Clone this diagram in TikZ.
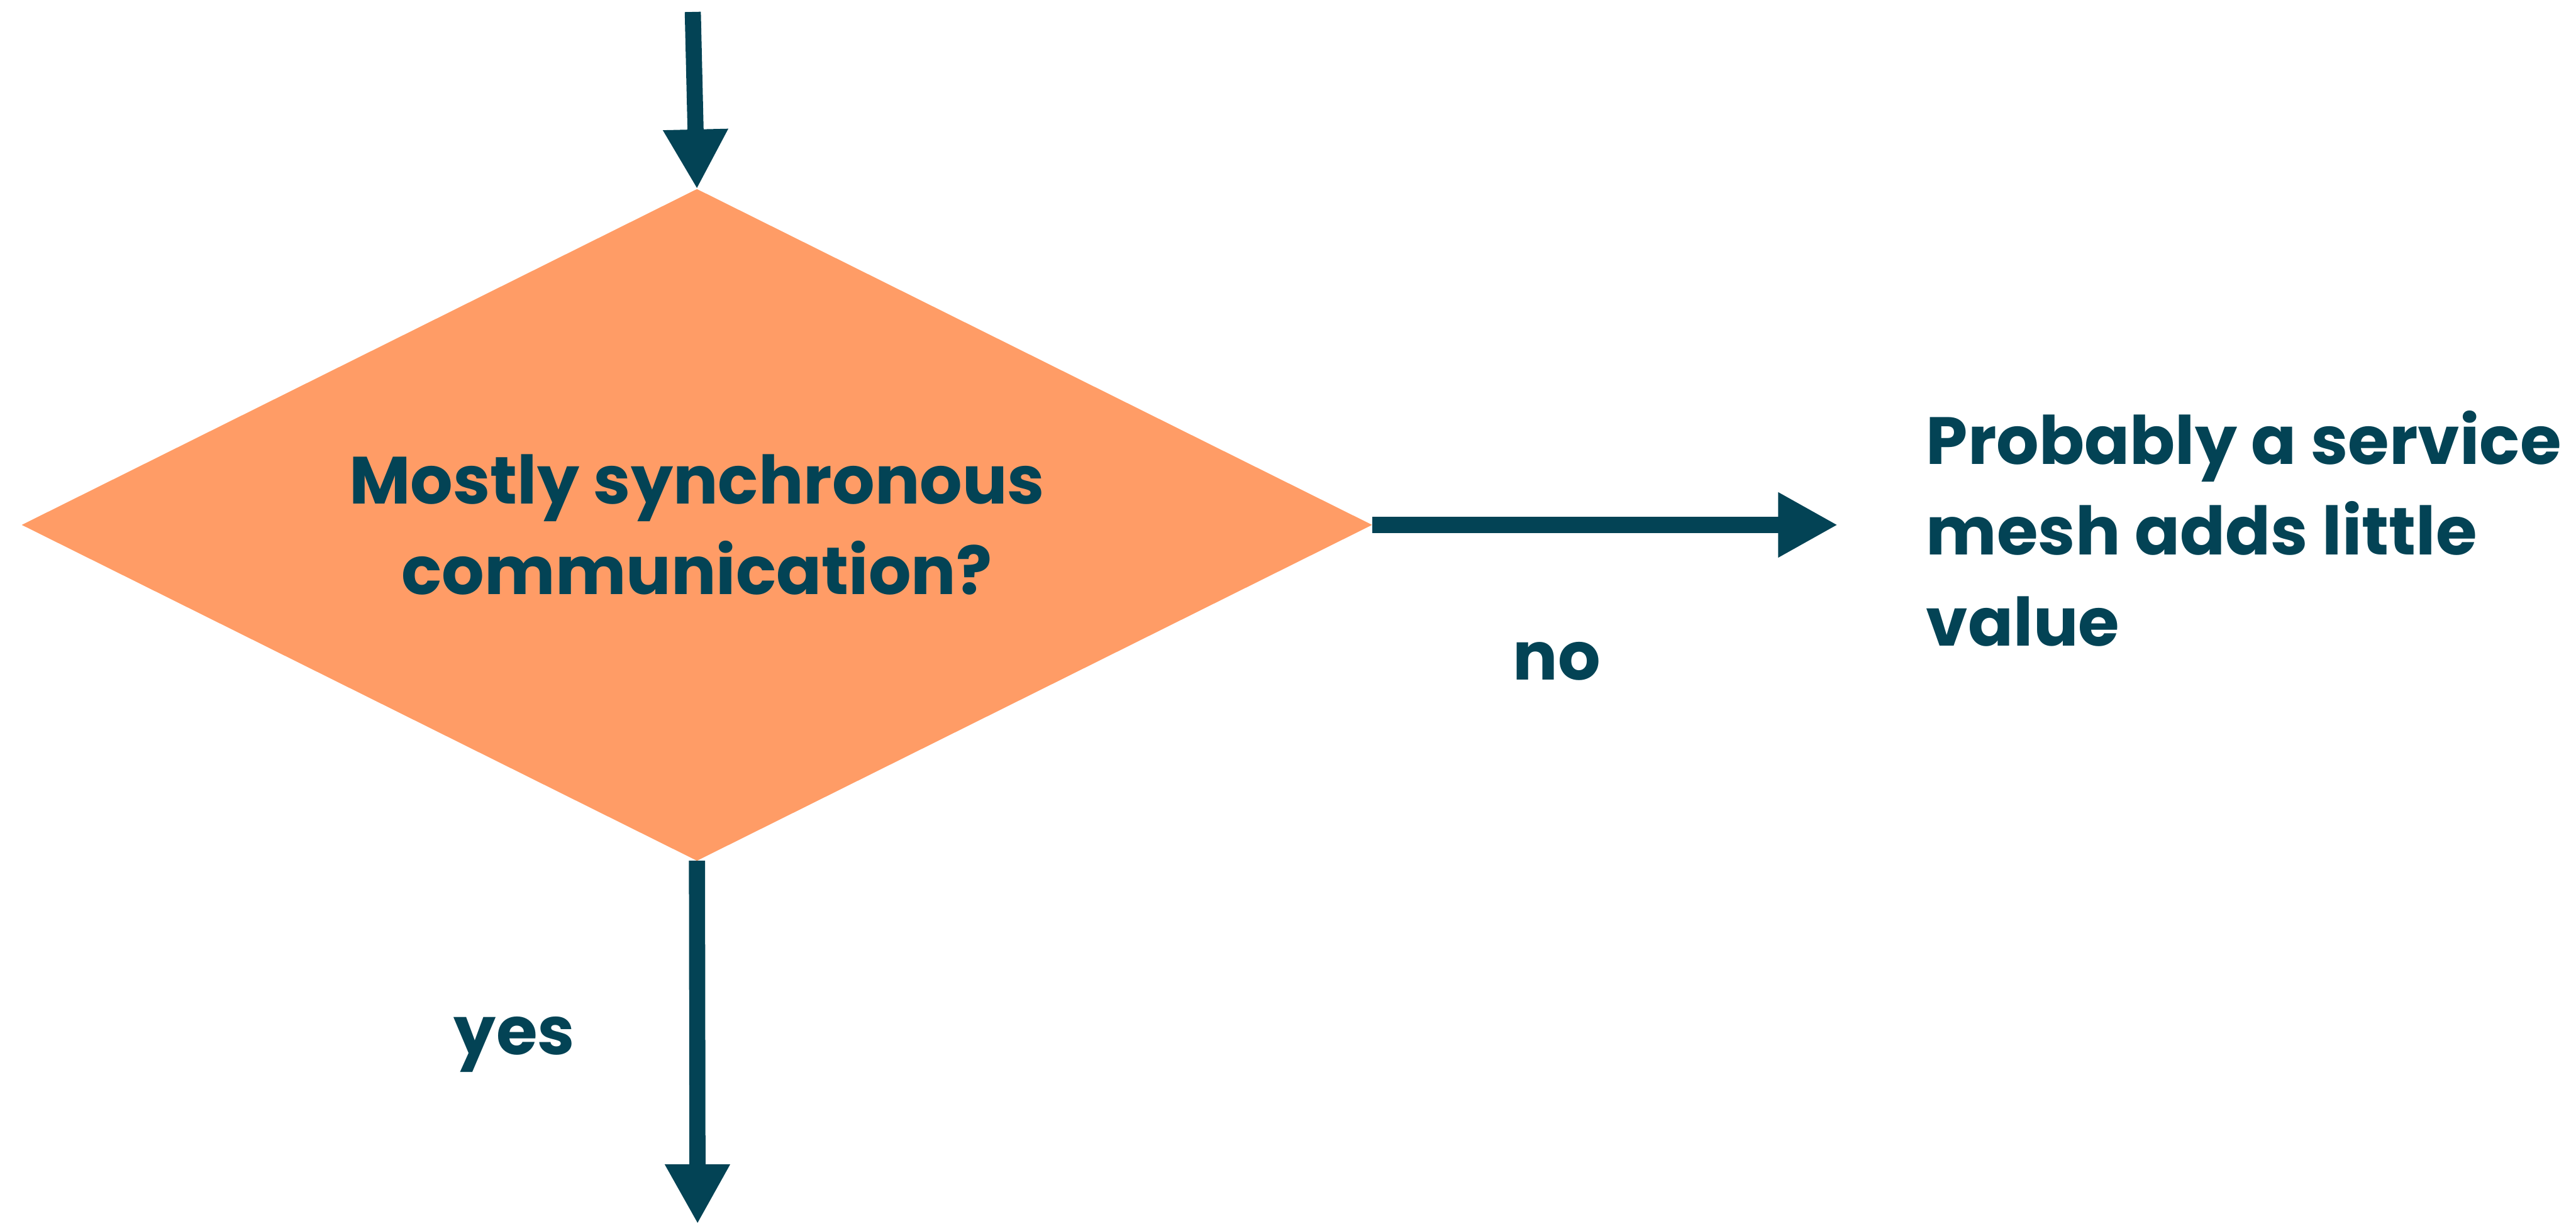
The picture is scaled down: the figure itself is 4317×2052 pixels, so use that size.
\documentclass[tikz,border=0pt]{standalone}
\usepackage{fontspec}
\setmainfont{Poppins}
\usetikzlibrary{shapes.geometric,arrows.meta}
\definecolor{ink}{HTML}{034355}
\definecolor{decision}{HTML}{FF9C66}
\tikzset{
  txt/.style={text=ink, font=\fontsize{112}{152}\selectfont\bfseries, inner sep=0pt},
  decisionbox/.style={shape=diamond, aspect=2, fill=decision, draw=none, inner sep=0pt,
    outer sep=0pt, minimum width=2263pt, minimum height=1126pt, align=center, txt},
  flow/.style={draw=ink, line width=27pt,
    -{Triangle[length=100pt,width=102pt]}},
}
\begin{document}
\begin{tikzpicture}[x=1pt,y=-1pt]
  \useasboundingbox (0,0) rectangle (4317,2052);
  % decision
  \node[decisionbox] (q) at (1168,880) {Mostly synchronous\\communication?};
  % outcome text
  \node[txt, align=left, anchor=west] (res) at (3228,886)
    {Probably a service\\mesh adds little\\value};
  % branch labels
  \node[txt, anchor=base] (no) at (2609,1140) {no};
  \node[txt, anchor=base] (yes) at (862,1768) {yes};
  % free ends
  \coordinate (entry) at (1161,20);
  \coordinate (exit) at (1169,2052);
  % connectors
  \draw[flow] (entry) -- (q.north);
  \draw[flow] (q.east) -- ([xshift=-148pt]q.east -| res.west);
  \draw[flow] (q.south) -- (exit);
\end{tikzpicture}
\end{document}
